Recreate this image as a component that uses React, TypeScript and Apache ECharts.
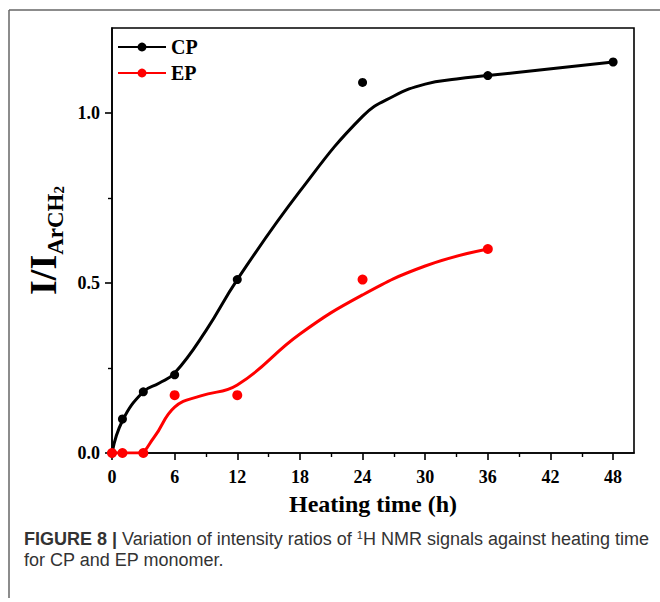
import React, { useEffect, useRef } from "react";
import * as echarts from "echarts";

const cpHours = [0, 1, 3, 6, 12, 24, 36, 48];
const cpValues = [0, 0.1, 0.18, 0.23, 0.51, 1.09, 1.11, 1.15];
const epHours = [0, 1, 3, 6, 12, 24, 36];
const epValues = [0, 0, 0, 0.17, 0.17, 0.51, 0.6];

// Fitted curves
const cpFitHours = [0, 1, 3, 4.5, 6, 9, 12, 18, 24, 27, 30, 33, 36, 48];
const cpFitValues = [0, 0.095, 0.18, 0.205, 0.235, 0.36, 0.51, 0.77, 0.99, 1.05, 1.085, 1.1, 1.11, 1.15];
const epFitHours = [0, 2.5, 4, 6, 8.5, 12, 18, 24, 30, 36];
const epFitValues = [0, 0, 0.045, 0.135, 0.168, 0.2, 0.35, 0.465, 0.55, 0.6];

// Axis ticks
const xMajorTicks = [0, 6, 12, 18, 24, 30, 36, 42, 48];
const xMinorTicks = [3, 9, 15, 21, 27, 33, 39, 45];
const yMajorTicks = [0, 0.5, 1.0];
const yMinorTicks = [0.25, 0.75];

const SERIF = "'Liberation Serif', 'Times New Roman', serif";
const SANS = "'Liberation Sans', Arial, sans-serif";

const zip = (xs: number[], ys: number[]) => xs.map((x, i) => [x, ys[i]]);

export default function App() {
  const ref = useRef<HTMLDivElement>(null);
  useEffect(() => {
    if (!ref.current) return;
    const chart = echarts.init(ref.current, undefined, { renderer: "svg" });
    const axisLine = { show: true, lineStyle: { color: "#000", width: 1.6 } };
    const baseX = {
      type: "value" as const,
      min: 0,
      max: 50,
      position: "bottom" as const,
      splitLine: { show: false },
    };
    const baseY = {
      type: "value" as const,
      min: 0,
      max: 1.25,
      position: "left" as const,
      splitLine: { show: false },
    };
    chart.setOption({
      animation: false,
      backgroundColor: "#fff",
      grid: {
        left: 112,
        top: 28,
        right: 26,
        bottom: 149,
        show: true,
        borderColor: "#000",
        borderWidth: 1.6,
        backgroundColor: "transparent",
      },
      legend: {
        left: 117,
        top: 37,
        padding: 0,
        orient: "vertical",
        itemWidth: 48,
        itemHeight: 11,
        itemGap: 6,
        data: ["CP", "EP"],
        textStyle: { fontFamily: SERIF, fontWeight: "bold", fontSize: 20, color: "#000", lineHeight: 20 },
      },
      xAxis: [
        {
          ...baseX,
          axisLine,
          axisTick: { show: true, inside: false, customValues: xMajorTicks, length: 7, lineStyle: { width: 1.6, color: "#000" } },
          axisLabel: {
            customValues: xMajorTicks,
            fontFamily: SERIF,
            fontWeight: "bold",
            fontSize: 18,
            color: "#000",
            margin: 15,
          },
          name: "Heating time (h)",
          nameLocation: "middle",
          nameGap: 39,
          nameTextStyle: { fontFamily: SERIF, fontWeight: "bold", fontSize: 24, color: "#000" },
        },
        {
          ...baseX,
          axisLine: { show: false },
          axisTick: { show: true, inside: false, customValues: xMinorTicks, length: 4, lineStyle: { width: 1.4, color: "#000" } },
          axisLabel: { show: false },
        },
      ],
      yAxis: [
        {
          ...baseY,
          axisLine,
          axisTick: { show: true, inside: false, customValues: yMajorTicks, length: 7, lineStyle: { width: 1.6, color: "#000" } },
          axisLabel: {
            customValues: yMajorTicks,
            formatter: (v: number) => v.toFixed(1),
            fontFamily: SERIF,
            fontWeight: "bold",
            fontSize: 18,
            color: "#000",
            margin: 12,
          },
          name: "{a|I/I}{b|ArCH}{c|2}",
          nameLocation: "middle",
          nameRotate: 90,
          nameGap: 38,
          nameTextStyle: {
            rich: {
              a: { fontFamily: SERIF, fontWeight: "bold", fontSize: 38, color: "#000", lineHeight: 48 },
              b: { fontFamily: SERIF, fontWeight: "bold", fontSize: 23, color: "#000", lineHeight: 20, verticalAlign: "bottom" },
              c: { fontFamily: SERIF, fontWeight: "bold", fontSize: 15, color: "#000", lineHeight: 14, verticalAlign: "bottom" },
            },
          },
        },
        {
          ...baseY,
          axisLine: { show: false },
          axisTick: { show: true, inside: false, customValues: yMinorTicks, length: 4, lineStyle: { width: 1.4, color: "#000" } },
          axisLabel: { show: false },
        },
      ],
      series: [
        {
          name: "CP",
          type: "line",
          data: zip(cpFitHours, cpFitValues),
          smooth: 0.45,
          showSymbol: false,
          symbol: "circle",
          lineStyle: { color: "#000", width: 3 },
          itemStyle: { color: "#000" },
          z: 3,
        },
        {
          name: "EP",
          type: "line",
          data: zip(epFitHours, epFitValues),
          smooth: 0.45,
          showSymbol: false,
          symbol: "circle",
          lineStyle: { color: "#ff0000", width: 3 },
          itemStyle: { color: "#ff0000" },
          z: 3,
        },
        {
          name: "CP points",
          type: "scatter",
          data: zip(cpHours, cpValues),
          symbolSize: 9,
          itemStyle: { color: "#000", opacity: 1 },
          z: 4,
        },
        {
          name: "EP points",
          type: "scatter",
          data: zip(epHours, epValues),
          symbolSize: 10,
          itemStyle: { color: "#ff0000", opacity: 1 },
          z: 4,
        },
      ],
      graphic: [
        {
          type: "line",
          shape: { x1: 9, y1: 10, x2: 660, y2: 10 },
          style: { stroke: "#666", lineWidth: 1.5 },
        },
        {
          type: "line",
          shape: { x1: 9, y1: 10, x2: 9, y2: 598 },
          style: { stroke: "#666", lineWidth: 1.5 },
        },
        {
          type: "text",
          left: 24,
          top: 529,
          style: {
            text: "{b|FIGURE 8 |} Variation of intensity ratios of {sup|1}H NMR signals against heating time",
            fontFamily: SANS,
            fontSize: 18,
            fill: "#333",
            rich: {
              b: { fontFamily: SANS, fontSize: 18, fontWeight: "bold", fill: "#333" },
              sup: { fontFamily: SANS, fontSize: 11, fill: "#333", verticalAlign: "top", lineHeight: 20 },
            },
          },
        },
        {
          type: "text",
          left: 24,
          top: 551,
          style: {
            text: "for CP and EP monomer.",
            fontFamily: SANS,
            fontSize: 18,
            fill: "#333",
          },
        },
      ],
    });
    return () => chart.dispose();
  }, []);
  return <div ref={ref} style={{ position: "fixed", left: 0, top: 0, width: 660, height: 602 }} />;
}
